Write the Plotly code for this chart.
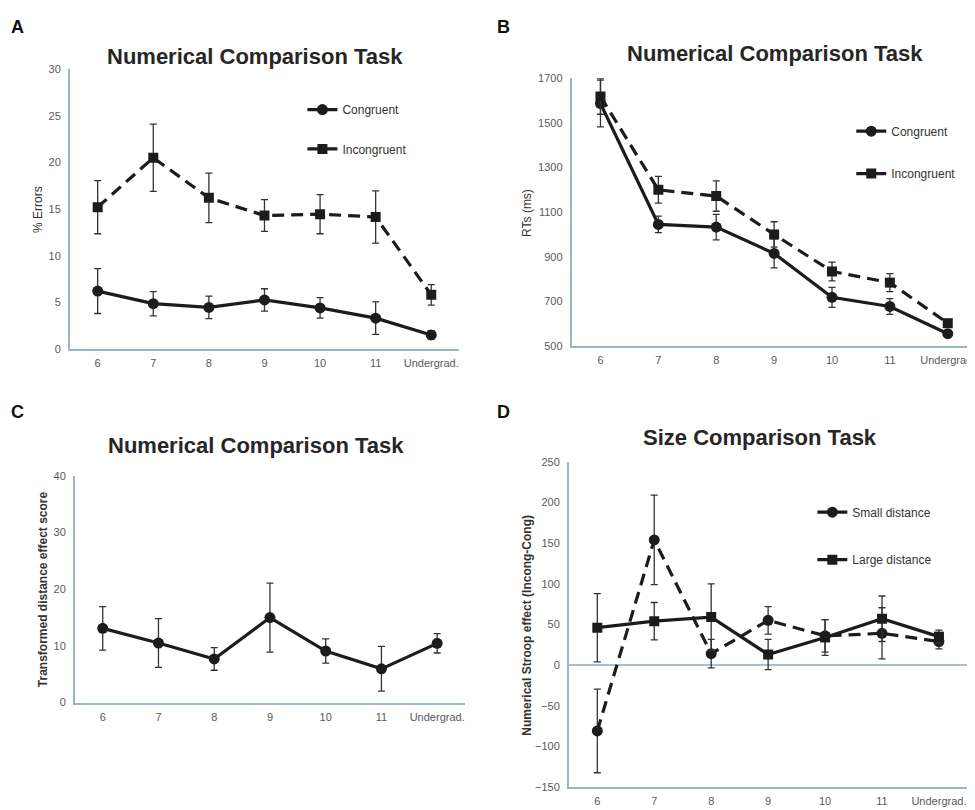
import plotly.graph_objects as go

# The page adds an 8px body margin, so the figure is laid out in
# page coordinates shifted by OFF.
OFF = 8
W, H = 975 - OFF, 810 - OFF

categories = ["6", "7", "8", "9", "10", "11", "Undergrad."]

# Panel A: % errors
a_congruent = [6.2, 4.85, 4.45, 5.25, 4.4, 3.3, 1.5]
a_congruent_err = [2.4, 1.3, 1.2, 1.2, 1.1, 1.75, 0.45]
a_incongruent = [15.2, 20.5, 16.2, 14.3, 14.45, 14.15, 5.8]
a_incongruent_err = [2.85, 3.6, 2.65, 1.7, 2.1, 2.8, 1.1]

# Panel B: RTs (ms)
b_congruent = [1587, 1045, 1033, 915, 718, 677, 555]
b_congruent_err = [105, 37, 57, 65, 45, 35, 10]
b_incongruent = [1619, 1200, 1172, 1000, 834, 784, 602]
b_incongruent_err = [80, 60, 68, 57, 42, 40, 8]

# Panel C: transformed distance effect score
c_score = [13.1, 10.5, 7.7, 15.0, 9.1, 5.95, 10.45]
c_score_err = [3.85, 4.3, 2.0, 6.1, 2.15, 3.95, 1.7]

# Panel D: numerical Stroop effect
d_small = [-81, 154, 14, 55, 36, 39, 29]
d_small_err = [51.5, 55, 17.5, 17, 20, 31.5, 9]
d_large = [46, 54, 59, 13, 34, 57, 35]
d_large_err = [42, 23, 41, 18.5, 22, 28, 8]

FONT = "Liberation Sans, Arial, sans-serif"
LINE = "#1c1c1c"
AXIS = "#9db5c8"
TICK = "#595959"


def px_x(p):
    return (p - OFF) / W


def px_y(p):
    return 1 - (p - OFF) / H


def trace(x, y, err, name, symbol, dash, xa, ya, legend=None, msize=11):
    return go.Scatter(
        x=x, y=y, name=name, mode="lines+markers",
        xaxis=xa, yaxis=ya,
        line=dict(color=LINE, width=3.2, dash=dash),
        marker=dict(symbol=symbol, size=msize, color=LINE),
        error_y=dict(type="data", array=err, visible=True, color="#333333",
                     thickness=1.3, width=3.5),
        showlegend=legend is not None,
        legend=legend if legend else "legend",
    )


DASH = "12px,7px"
fig = go.Figure()
# A
fig.add_trace(trace(categories, a_congruent, a_congruent_err, "Congruent", "circle", "solid", "x", "y", "legend"))
fig.add_trace(trace(categories, a_incongruent, a_incongruent_err, "Incongruent", "square", DASH, "x", "y", "legend2", 10))
# B
fig.add_trace(trace(categories, b_congruent, b_congruent_err, "Congruent", "circle", "solid", "x2", "y2", "legend3"))
fig.add_trace(trace(categories, b_incongruent, b_incongruent_err, "Incongruent", "square", DASH, "x2", "y2", "legend4", 10))
# C
fig.add_trace(trace(categories, c_score, c_score_err, "Score", "circle", "solid", "x3", "y3", None))
# D
fig.add_trace(trace(categories, d_small, d_small_err, "Small distance", "circle", DASH, "x4", "y4", "legend5"))
fig.add_trace(trace(categories, d_large, d_large_err, "Large distance", "square", "solid", "x4", "y4", "legend6", 10))


def xaxis(domain, anchor, rng):
    return dict(domain=domain, anchor=anchor, type="category", range=rng,
                showgrid=False, zeroline=False, showline=True, linecolor=AXIS,
                linewidth=1.6, ticks="", ticklabelstandoff=3,
                tickfont=dict(family=FONT, size=11, color=TICK))


def yaxis(domain, anchor, rng, dtick, zeroline=False):
    return dict(domain=domain, anchor=anchor, range=rng, dtick=dtick, tick0=rng[0],
                showgrid=False, zeroline=zeroline, zerolinecolor="#a9bfd0",
                zerolinewidth=1.5, showline=True, linecolor=AXIS, linewidth=1.6,
                ticks="", ticklabelstandoff=5,
                tickfont=dict(family=FONT, size=11, color=TICK))


layout = dict(
    width=W, height=H, margin=dict(l=0, r=0, t=0, b=0),
    paper_bgcolor="white", plot_bgcolor="white",
    font=dict(family=FONT, color="#333333"),
    xaxis=xaxis([px_x(70), px_x(460)], "y", [-0.5, 6.5]),
    yaxis=yaxis([px_y(348), px_y(64)], "x", [0, 30], 5),
    xaxis2=xaxis([px_x(572.7), 1.0], "y2", [-0.5, 6.436]),
    yaxis2=yaxis([px_y(345), px_y(73.3)], "x2", [500, 1700], 200),
    xaxis3=xaxis([px_x(75), px_x(466)], "y3", [-0.5, 6.5]),
    yaxis3=yaxis([px_y(707), px_y(477)], "x3", [0, 40], 10),
    xaxis4=xaxis([px_x(570), px_x(969.4)], "y4", [-0.5, 6.5]),
    yaxis4=yaxis([px_y(792.7), px_y(462.7)], "x4", [-150, 250], 50, zeroline=True),
)


def leg(xp, yp):
    return dict(x=px_x(xp), y=px_y(yp), xanchor="left", yanchor="middle",
                bgcolor="rgba(0,0,0,0)", itemwidth=30,
                font=dict(family=FONT, size=12, color="#333333"))


layout["legend"] = leg(303, 105)
layout["legend2"] = leg(303, 145)
layout["legend3"] = leg(853, 127)
layout["legend4"] = leg(853, 170)
layout["legend5"] = leg(814, 513.7)
layout["legend6"] = leg(814, 562)

fig.update_layout(**layout)

ann = []


def text(x, y, s, size, bold=False, color="#262626", angle=0):
    ann.append(dict(x=px_x(x), y=px_y(y), xref="paper", yref="paper",
                    text=f"<b>{s}</b>" if bold else s, showarrow=False,
                    xanchor="center", yanchor="middle", textangle=angle,
                    font=dict(family=FONT, size=size, color=color)))


# panel letters
text(18, 21, "A", 18, True, "#111111")
text(505, 21, "B", 18, True, "#111111")
text(18, 412, "C", 18, True, "#111111")
text(505, 412, "D", 18, True, "#111111")
# titles
text(256, 51, "Numerical Comparison Task", 22, True)
text(777, 48, "Numerical Comparison Task", 22, True)
text(257, 446, "Numerical Comparison Task", 22, True)
text(762, 438, "Size Comparison Task", 22, True)
# axis titles
text(38, 206, "% Errors", 12, False, "#333333", -90)
text(528, 210, "RTs (ms)", 12, False, "#333333", -90)
text(43, 592, "Transformed distance effect score", 12, True, "#333333", -90)
text(528, 628, "Numerical Stroop effect (Incong-Cong)", 12, True, "#333333", -90)

fig.update_layout(annotations=ann)
fig.write_html("out.html")
